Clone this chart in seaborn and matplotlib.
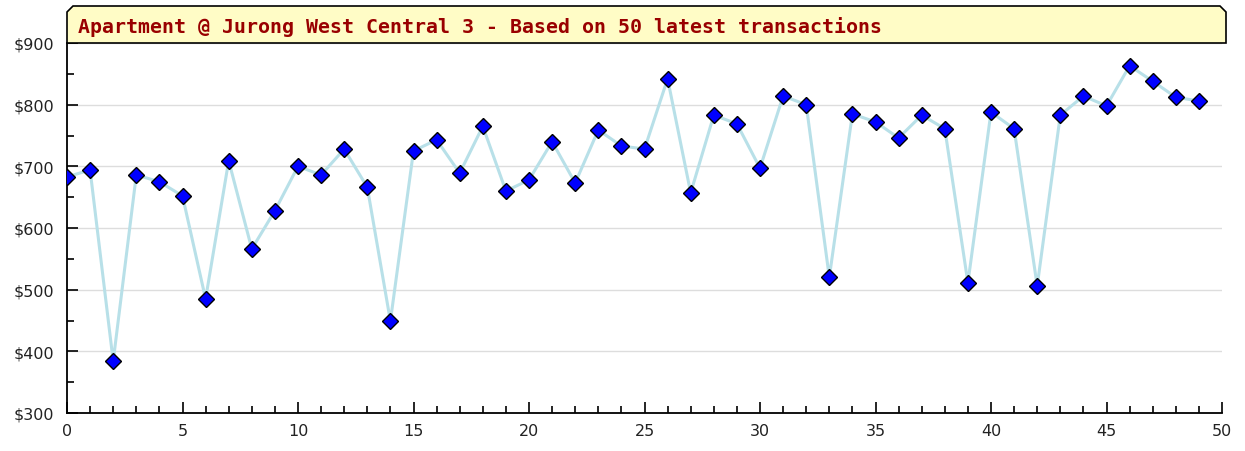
import numpy as np
import pandas as pd
import matplotlib
matplotlib.use('Agg')
import matplotlib.pyplot as plt
from matplotlib.patches import Polygon
from matplotlib.ticker import MultipleLocator, FuncFormatter
import seaborn as sns

# Transaction index and price
transaction = list(range(50))
price = [683, 694, 384, 686, 675, 652, 485, 709, 566, 628,
         700, 686, 728, 666, 449, 725, 743, 689, 765, 660,
         678, 740, 673, 759, 733, 728, 842, 657, 783, 769,
         697, 814, 800, 520, 785, 772, 746, 783, 761, 511,
         788, 761, 506, 783, 814, 798, 863, 838, 812, 806]
title_text = "Apartment @ Jurong West Central 3 - Based on 50 latest transactions"

df = pd.DataFrame({'idx': transaction, 'price': price})

sns.set_style('white')
plt.rcParams['font.family'] = ['DejaVu Sans']

W, H = 1245, 452
fig = plt.figure(figsize=(W / 100, H / 100), dpi=100)
ax = fig.add_axes([67 / W, 1 - 414 / H, (1222 - 67) / W, (414 - 44) / H])

sns.lineplot(data=df, x='idx', y='price', ax=ax, color='#b8e0e8', linewidth=2.2,
             marker='D', markersize=8.5, markerfacecolor='#0000ff',
             markeredgecolor='black', markeredgewidth=1.0, zorder=3)

ax.set_xlim(0, 50)
ax.set_ylim(300, 900)
ax.xaxis.set_major_locator(MultipleLocator(5))
ax.xaxis.set_minor_locator(MultipleLocator(1))
ax.yaxis.set_major_locator(MultipleLocator(100))
ax.yaxis.set_minor_locator(MultipleLocator(50))
ax.yaxis.set_major_formatter(FuncFormatter(lambda v, p: f'${v:.0f}'))
ax.set_xlabel('')
ax.set_ylabel('')

ax.grid(True, axis='y', which='major', color='#dddddd', linewidth=1)
for s in ['top', 'right']:
    ax.spines[s].set_visible(False)
for s in ['left', 'bottom']:
    ax.spines[s].set_color('black')
    ax.spines[s].set_linewidth(1.3)

ax.tick_params(axis='both', which='major', direction='in', length=8, width=1.2,
               color='black', labelsize=11.5, labelcolor='#222222',
               left=True, bottom=True)
ax.tick_params(axis='y', which='major', pad=9)
ax.tick_params(axis='x', which='major', pad=7)
ax.tick_params(axis='both', which='minor', direction='in', length=5, width=1.2,
               color='black', left=True, bottom=True)

# Title box with cut corners
x0, x1 = 67 / W, 1226 / W
y0, y1 = 1 - 44 / H, 1 - 7 / H
cx, cy = 6 / W, 6 / H
box = Polygon([(x0, y0), (x0, y1 - cy), (x0 + cx, y1), (x1 - cx, y1),
               (x1, y1 - cy), (x1, y0)], closed=True, transform=fig.transFigure,
              facecolor='#fffcc6', edgecolor='black', linewidth=1.2)
fig.patches.append(box)
fig.text(78 / W, 1 - 27 / H, title_text, ha='left', va='center', fontsize=14.3,
         fontweight='bold', color='#990000', family=['DejaVu Sans Mono'])

fig.savefig('out.png', dpi=100)
